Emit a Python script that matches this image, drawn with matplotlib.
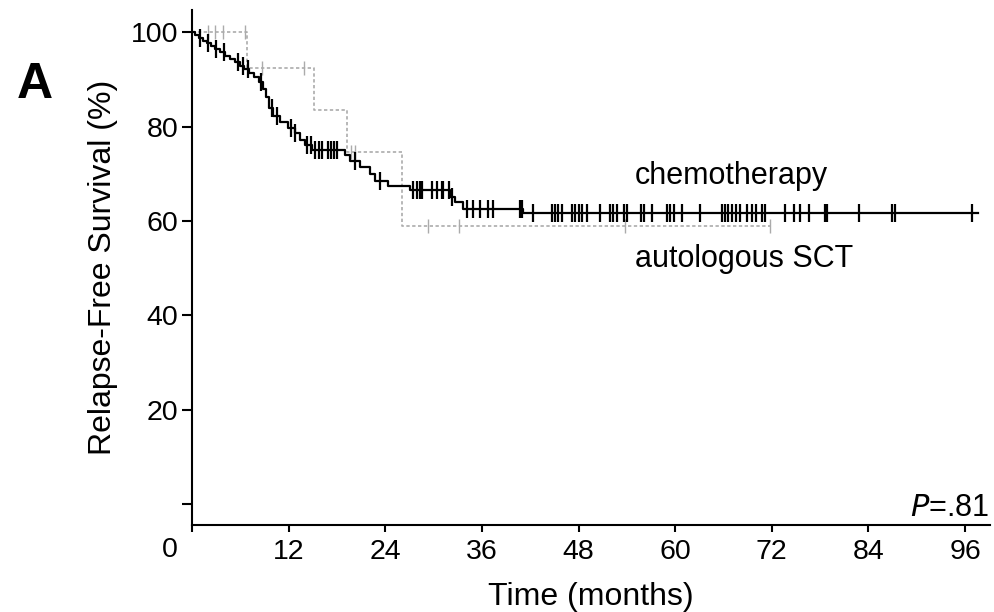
"""Kaplan-Meier relapse-free survival, chemotherapy vs autologous SCT"""
import matplotlib
matplotlib.use('Agg')
import matplotlib.pyplot as plt
import numpy as np

plt.rcParams['font.family'] = ['Liberation Sans', 'DejaVu Sans']

# chemotherapy: step times (months) and survival (%)
chemo_t = [0, 0.4, 0.9, 1.4, 1.9, 2.4, 2.9, 3.5, 4.1, 4.7,
           5.3, 5.9, 6.5, 7.1, 7.7, 8.3, 8.8, 9.2, 9.6, 10.1,
           10.9, 11.9, 12.8, 13.4, 14.0, 14.9, 19.0, 19.6, 20.9, 22.1,
           22.7, 24.3, 27.1, 32.0, 32.7, 33.7, 41.1]
chemo_s = [100, 99.4, 98.8, 98.2, 97.6, 97.0, 96.4, 95.7, 95.0, 94.3,
           93.6, 92.9, 92.1, 91.3, 90.4, 89.4, 88.0, 86.2, 84.0, 82.2,
           80.9, 79.7, 78.6, 77.1, 76.1, 75.0, 73.9, 72.6, 71.5, 70.0,
           68.4, 67.3, 66.5, 65.0, 64.0, 62.6, 61.6]
chemo_end = 97.6
chemo_cens = [1.0, 2.0, 3.0, 4.0, 5.7, 6.3, 6.9, 8.6, 9.9, 10.6,
              12.3, 12.8, 14.3, 14.8, 15.3, 15.8, 16.1, 16.9, 17.3, 17.6,
              18.0, 20.2, 23.4, 27.5, 28.0, 28.3, 28.6, 29.8, 30.4, 31.1,
              31.2, 31.9, 32.3, 34.2, 34.9, 35.8, 36.8, 37.4, 40.7, 41.0,
              42.4, 44.7, 45.1, 45.5, 45.9, 47.2, 47.6, 48.0, 48.4, 49.0,
              50.7, 51.9, 52.3, 52.8, 53.6, 54.0, 55.7, 56.1, 57.1, 59.0,
              59.4, 59.8, 60.8, 63.1, 65.8, 66.2, 66.6, 67.0, 67.5, 68.1,
              68.9, 69.5, 70.1, 70.8, 71.2, 73.7, 74.7, 75.5, 76.6, 78.6,
              78.9, 82.8, 86.9, 87.3, 96.9]

# autologous SCT
sct_t = [0, 6.8, 15.2, 19.3, 26.1]
sct_s = [100, 92.5, 83.4, 74.6, 59.0]
sct_end = 71.8
sct_cens = [2.0, 2.9, 3.9, 6.6, 8.7, 13.9, 19.7, 20.2, 29.3, 33.2, 53.8, 71.8]


def step_value(times, surv, at):
    idx = np.searchsorted(times, at, side='right') - 1
    return np.asarray(surv)[idx]


fig = plt.figure(figsize=(9.94, 6.12), dpi=100)
ax = fig.add_axes([192 / 994, 87 / 612, 798 / 994, 515 / 612])

# autologous SCT (grey dotted)
ax.step(list(sct_t) + [sct_end], list(sct_s) + [sct_s[-1]], where='post',
        color='#ababab', lw=1.2, linestyle=(0, (2, 1.5)))
ax.plot(sct_cens, step_value(sct_t, sct_s, sct_cens), linestyle='none',
        marker='|', markersize=10, markeredgewidth=1.0, color='#ababab')

# chemotherapy (black)
ax.step(list(chemo_t) + [chemo_end], list(chemo_s) + [chemo_s[-1]], where='post',
        color='black', lw=1.6)
ax.plot(chemo_cens, step_value(chemo_t, chemo_s, chemo_cens), linestyle='none',
        marker='|', markersize=13, markeredgewidth=1.6, color='black')

ax.set_xlim(0, 99.1)
ax.set_ylim(-4.45, 104.7)
ax.set_xticks([0, 12, 24, 36, 48, 60, 72, 84, 96])
ax.set_xticklabels(['', '12', '24', '36', '48', '60', '72', '84', '96'])
ax.set_yticks([0, 20, 40, 60, 80, 100])
ax.set_yticklabels(['', '20', '40', '60', '80', '100'])
ax.tick_params(axis='y', length=7, width=1.5, pad=3, labelsize=20.5)
ax.tick_params(axis='x', length=5, width=1.5, pad=5, labelsize=20.5)
for s in ['top', 'right']:
    ax.spines[s].set_visible(False)
for s in ['left', 'bottom']:
    ax.spines[s].set_linewidth(1.5)

ax.set_xlabel('Time (months)', fontsize=23, labelpad=12)
ax.set_ylabel('Relapse-Free Survival (%)', fontsize=23, labelpad=9)

fig.text(170 / 994, 1 - 550 / 612, '0', fontsize=20.5, ha='center', va='center')
fig.text(35 / 994, 1 - 85 / 612, 'A', fontsize=36, fontweight='bold',
         ha='center', va='center')

ax.text(55.0, 69.5, 'chemotherapy', fontsize=22, ha='left', va='center')
ax.text(55.0, 52.0, 'autologous SCT', fontsize=22, ha='left', va='center')
ax.text(99.0, -2.6, r'$\mathit{P}$=.81', fontsize=22, ha='right', va='baseline')

fig.savefig('out.png', dpi=100)
